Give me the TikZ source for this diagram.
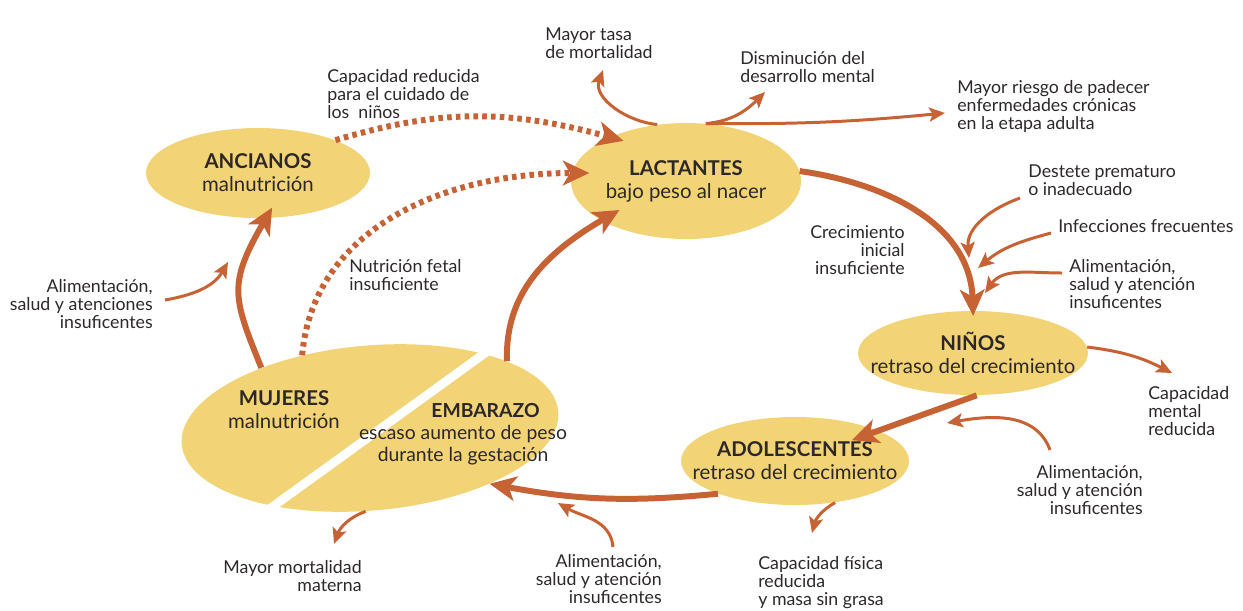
\documentclass[tikz,border=0pt]{standalone}
\usepackage{fontspec}
\setmainfont{Lato}
\usepackage{tikz}
\usetikzlibrary{arrows.meta, positioning, shapes.geometric, calc}
\definecolor{ciclo_fill}{RGB}{242, 211, 118}
\definecolor{ciclo_arrow}{RGB}{198, 98, 52}
\definecolor{ciclo_text}{RGB}{45, 40, 40}

\begin{document}
\begin{tikzpicture}[x=0.02cm, y=0.02cm,
    grupo/.style={ellipse, fill=ciclo_fill, inner xsep=-20pt, inner ysep=0pt,
      align=center, text=ciclo_text, font=\fontsize{11.6}{13}\selectfont},
    nota/.style={inner sep=0pt, text=ciclo_text, font=\fontsize{10.1}{10.4}\selectfont},
    ciclo/.style={ciclo_arrow, line width=3.4pt,
      -{Stealth[length=15pt, width=14pt, inset=4pt]}},
    efecto/.style={ciclo_arrow, line width=1.7pt,
      -{Stealth[length=9pt, width=8pt, inset=2pt]}},
    puntos/.style={ciclo, dash pattern=on 2.6pt off 2.4pt}]
  \useasboundingbox (0,0) rectangle (1243,-610);

  % grupos de edad
  \node[grupo, minimum width=4.48cm, minimum height=1.8cm] (anc) at (258,-173)
    {\textbf{ANCIANOS}\\malnutrición};
  \node[grupo, minimum width=4.6cm, minimum height=2.32cm] (lact) at (686,-181)
    {\textbf{LACTANTES}\\bajo peso al nacer};
  \node[grupo, minimum width=4.6cm, minimum height=1.68cm] (ninos) at (973,-353)
    {\textbf{NIÑOS}\\retraso del crecimiento};
  \node[grupo, minimum width=4.56cm, minimum height=1.76cm] (adol) at (795,-461)
    {\textbf{ADOLESCENTES}\\retraso del crecimiento};
  \node[grupo, minimum width=7.56cm, minimum height=3.3cm, rotate=5] (madre)
    at (370,-428) {};
  \draw[white, line width=5pt] (492,-348) -- (268,-510);
  \node[grupo, fill=none] (muj) at (284,-410) {\textbf{MUJERES}\\malnutrición};
  \node[grupo, fill=none, font=\fontsize{11}{12.4}\selectfont] (emb) at (463,-434)
    {\hspace*{0.9cm}\textbf{EMBARAZO}\\escaso aumento de peso\\durante la gestación};

  % textos
  \node[nota, anchor=north west, align=left] (tasa) at (545,-27) {Mayor tasa\\de mortalidad};
  \node[nota, anchor=north west, align=left] (dism) at (740,-51) {Disminución del\\desarrollo mental};
  \node[nota, anchor=north west, align=left] (riesgo) at (957,-80)
    {Mayor riesgo de padecer\\enfermedades crónicas\\en la etapa adulta};
  \node[nota, anchor=north west, align=left] (cuidado) at (327,-69)
    {Capacidad reducida\\para el cuidado de\\los\ \ niños};
  \node[nota, anchor=north west, align=left] (destete) at (1028,-164)
    {Destete prematuro\\o inadecuado};
  \node[nota, anchor=north west, align=left] (infec) at (1058,-219) {Infecciones frecuentes};
  \node[nota, anchor=north west, align=left] (alim1) at (1069,-259)
    {Alimentación,\\salud y atención\\insuficentes};
  \node[nota, anchor=north east, align=right] (crec) at (905,-225)
    {Crecimiento\\inicial\\insuficiente};
  \node[nota, anchor=north west, align=left] (fetal) at (349,-259)
    {Nutrición fetal\\insuficiente};
  \node[nota, anchor=north east, align=right] (alim4) at (153,-279)
    {Alimentación,\\salud y atenciones\\insuficentes};
  \node[nota, anchor=north west, align=left] (mental) at (1148,-386)
    {Capacidad\\mental\\reducida};
  \node[nota, anchor=north east, align=right] (alim2) at (1143,-465)
    {Alimentación,\\salud y atención\\insuficentes};
  \node[nota, anchor=north west, align=left] (fisica) at (758,-556)
    {Capacidad física\\reducida\\y masa sin grasa};
  \node[nota, anchor=north east, align=right] (alim3) at (662,-554)
    {Alimentación,\\salud y atención\\insuficentes};
  \node[nota, anchor=north east, align=right] (mort) at (362,-560)
    {Mayor mortalidad\\materna};

  % ciclo principal
  \draw[ciclo, shorten >=-3pt] (lact.5) to[out=-8, in=92] (ninos.north);
  \draw[ciclo, shorten >=-16pt] (ninos.-85) -- (adol.20);
  \draw[ciclo] (adol.203) to[bend left=8] (madre.-30);
  \draw[ciclo, shorten >=-12pt] (madre.21) to[out=92, in=210] (lact.205);
  \draw[ciclo, shorten >=-7pt] (madre.146) to[out=112, in=240, looseness=1.3] (anc.-80);
  \draw[puntos, shorten >=-8pt] (anc.23) to[bend left=16] (lact.150);
  \draw[puntos, shorten >=-10pt] (madre.128) to[out=85, in=180] (lact.176);

  % causas y efectos
  \coordinate (tasa_tip) at (603,-70);
  \coordinate (dism_tip) at (765,-92);
  \coordinate (riesgo_tip) at (945,-113);
  \coordinate (destete_ini) at (1020,-198);
  \coordinate (destete_tip) at (969,-258);
  \coordinate (infec_ini) at (1051,-233);
  \coordinate (infec_tip) at (978,-268);
  \coordinate (alim1_ini) at (1062,-273);
  \coordinate (alim1_tip) at (985,-293);
  \coordinate (mental_tip) at (1172,-373);
  \coordinate (alim2_ini) at (1050,-450);
  \coordinate (alim2_tip) at (947,-423);
  \coordinate (fisica_tip) at (812,-533);
  \coordinate (alim3_ini) at (613,-547);
  \coordinate (alim3_tip) at (558,-503);
  \coordinate (mort_tip) at (334,-544);
  \coordinate (alim4_ini) at (165,-300);
  \coordinate (alim4_tip) at (228,-262);

  \draw[efecto] (lact.117) to[out=175, in=-110] (tasa_tip);
  \draw[efecto] (lact.71) to[out=5, in=225] (dism_tip);
  \draw[efecto] (lact.71) to[bend right=3] (riesgo_tip);
  \draw[efecto] (destete_ini) to[out=200, in=95] (destete_tip);
  \draw[efecto] (infec_ini) to[out=195, in=40] (infec_tip);
  \draw[efecto] (alim1_ini) to[out=180, in=55] (alim1_tip);
  \draw[efecto] (ninos.3) to[bend left=10] (mental_tip);
  \draw[efecto] (alim2_ini) to[out=110, in=10] (alim2_tip);
  \draw[efecto] (adol.-46) to[out=210, in=75] (fisica_tip);
  \draw[efecto] (alim3_ini) to[out=95, in=-30] (alim3_tip);
  \draw[efecto] (madre.-98) to[out=200, in=70] (mort_tip);
  \draw[efecto] (alim4_ini) to[out=10, in=240] (alim4_tip);
\end{tikzpicture}
\end{document}
